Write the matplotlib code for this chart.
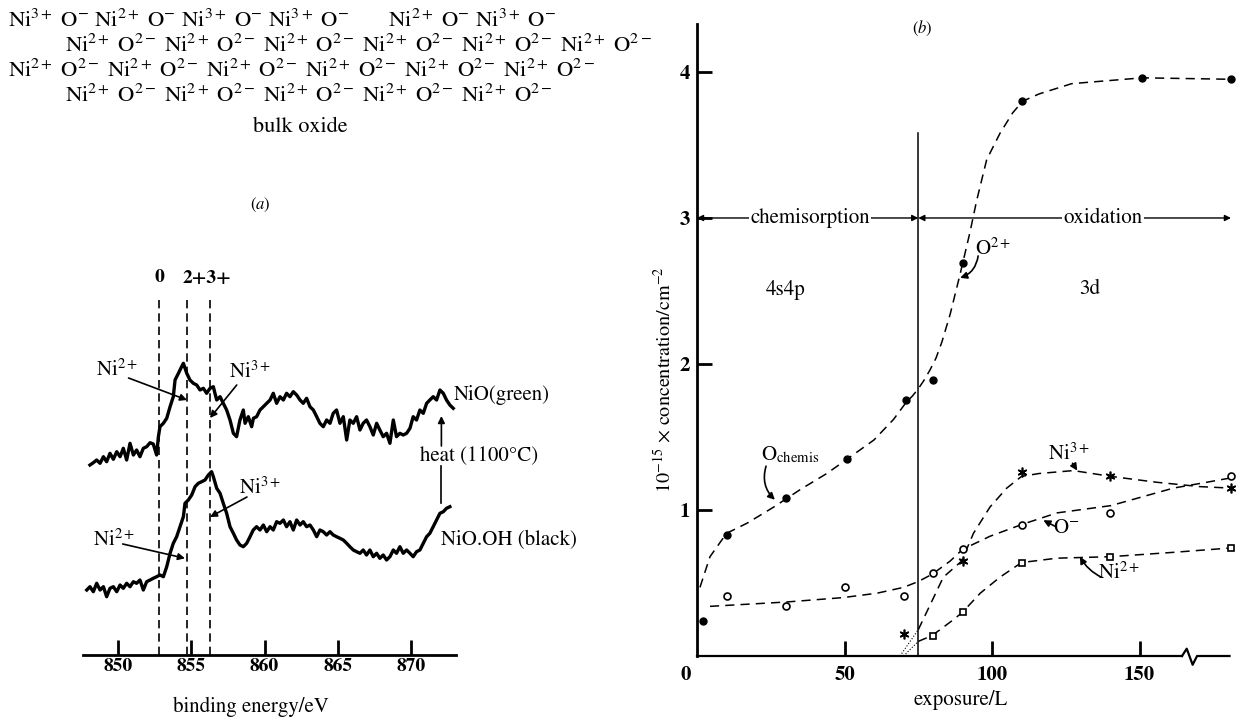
import numpy as np
import matplotlib.pyplot as plt

plt.rcParams['font.family'] = ['STIXGeneral', 'DejaVu Serif']
plt.rcParams['mathtext.fontset'] = 'stix'

# ---------- (a) Ni 2p spectra, binding energy / eV vs intensity (arb.)
green_ev = [848.06, 848.29, 848.52, 848.75, 848.98, 849.20, 849.43, 849.66, 849.89, 850.12,
            850.34, 850.57, 850.80, 851.03, 851.25, 851.48, 851.71, 851.94, 852.17, 852.39,
            852.62, 852.74, 852.85, 853.08, 853.31, 853.54, 853.76, 853.88, 854.11, 854.33,
            854.45, 854.68, 854.90, 855.13, 855.36, 855.59, 855.82, 856.04, 856.27, 856.50,
            856.61, 856.73, 856.96, 857.18, 857.41, 857.64, 857.87, 858.09, 858.32, 858.55,
            858.67, 858.89, 859.12, 859.24, 859.46, 859.69, 859.92, 860.15, 860.38, 860.60,
            860.83, 861.06, 861.29, 861.51, 861.74, 861.97, 862.20, 862.43, 862.65, 862.88,
            863.11, 863.34, 863.57, 863.79, 864.02, 864.25, 864.48, 864.70, 864.93, 865.16,
            865.39, 865.62, 865.84, 866.07, 866.30, 866.53, 866.75, 866.98, 867.21, 867.44,
            867.67, 867.89, 868.12, 868.35, 868.58, 868.81, 869.03, 869.26, 869.49, 869.72,
            869.95, 870.17, 870.40, 870.63, 870.86, 871.09, 871.31, 871.54, 871.77, 872.00,
            872.23, 872.45, 872.68, 872.91]
green_int = [19.0, 19.23, 19.5, 19.17, 19.83, 19.33, 20.17, 19.57, 20.33, 19.83,
             20.67, 19.5, 21.17, 20.0, 20.5, 19.83, 20.67, 20.83, 21.23, 21.1,
             20.0, 21.83, 22.83, 23.17, 23.67, 24.83, 25.83, 27.5, 28.17, 28.83,
             29.17, 28.17, 27.5, 27.17, 27.0, 26.5, 26.67, 26.17, 26.67, 26.83,
             26.17, 25.5, 25.83, 25.17, 24.5, 23.5, 22.17, 21.83, 23.5, 24.5,
             23.17, 23.83, 22.83, 23.67, 23.83, 24.5, 24.83, 25.17, 25.5, 26.17,
             25.17, 25.83, 25.5, 26.17, 25.83, 26.33, 26.0, 25.5, 25.17, 25.67,
             24.83, 24.5, 23.83, 23.17, 22.83, 23.5, 23.17, 24.17, 24.5, 23.17,
             23.83, 21.5, 23.5, 23.17, 23.83, 22.5, 23.17, 23.5, 22.83, 22.0,
             23.17, 22.5, 21.83, 22.17, 21.17, 23.5, 21.83, 22.17, 22.0, 22.17,
             22.67, 23.83, 23.5, 24.5, 24.17, 25.17, 25.5, 25.83, 25.5, 26.5,
             26.17, 25.5, 25.0, 24.67]

black_ev = [847.84, 848.06, 848.29, 848.52, 848.75, 848.98, 849.20, 849.43, 849.66, 849.89,
            850.12, 850.34, 850.57, 850.80, 851.03, 851.25, 851.48, 851.71, 851.94, 852.17,
            852.39, 852.62, 852.85, 853.08, 853.31, 853.54, 853.76, 853.99, 854.22, 854.45,
            854.56, 854.79, 855.02, 855.25, 855.47, 855.70, 855.93, 856.16, 856.38, 856.50,
            856.73, 856.96, 857.18, 857.41, 857.64, 857.87, 858.09, 858.32, 858.55, 858.78,
            859.01, 859.23, 859.46, 859.69, 859.92, 860.15, 860.38, 860.60, 860.83, 861.06,
            861.29, 861.51, 861.74, 861.97, 862.20, 862.43, 862.65, 862.88, 863.11, 863.34,
            863.57, 863.79, 864.02, 864.25, 864.48, 864.70, 864.93, 865.16, 865.39, 865.62,
            865.84, 866.07, 866.30, 866.53, 866.75, 866.98, 867.21, 867.44, 867.67, 867.89,
            868.12, 868.35, 868.58, 868.81, 869.03, 869.26, 869.49, 869.72, 869.95, 870.17,
            870.40, 870.63, 870.86, 871.09, 871.31, 871.54, 871.77, 872.00, 872.23, 872.45,
            872.68]
black_int = [6.5, 6.83, 6.33, 7.17, 6.5, 6.83, 5.83, 6.67, 6.83, 6.33,
             7.0, 6.67, 7.17, 6.83, 7.33, 7.17, 7.5, 6.5, 7.33, 7.5,
             7.67, 7.83, 8.0, 7.83, 8.83, 10.17, 11.17, 11.83, 12.83, 13.83,
             15.17, 15.5, 16.0, 16.83, 17.17, 17.33, 17.5, 18.0, 18.33, 17.83,
             16.67, 16.17, 15.17, 14.17, 12.83, 12.17, 11.5, 11.0, 10.83, 11.17,
             11.83, 12.5, 12.83, 12.5, 13.0, 12.33, 12.83, 12.5, 13.33, 13.17,
             13.5, 12.83, 13.33, 12.5, 13.5, 13.0, 13.33, 12.83, 13.0, 12.5,
             11.83, 12.5, 12.33, 12.0, 12.33, 12.0, 11.83, 11.67, 11.5, 11.17,
             10.83, 10.5, 10.33, 10.17, 10.5, 10.0, 10.5, 9.83, 10.17, 9.67,
             10.0, 9.5, 9.83, 10.5, 10.17, 10.83, 10.17, 10.5, 10.17, 9.83,
             10.33, 10.5, 11.17, 11.83, 12.17, 12.83, 13.5, 14.17, 14.33, 14.67,
             14.83]

state_ev = [852.8, 854.7, 856.3]          # Ni(0), Ni2+, Ni3+ reference positions
ev_ticks = [850, 855, 860, 865, 870]

# ---------- (b) surface concentration vs exposure
o2_x = [2, 10, 30, 51, 71, 80, 90, 110, 151, 181]
o2_y = [0.24, 0.83, 1.08, 1.35, 1.75, 1.89, 2.69, 3.80, 3.96, 3.95]
om_x = [10, 30, 50, 70, 80, 90, 110, 140, 181]
om_y = [0.41, 0.34, 0.47, 0.41, 0.57, 0.73, 0.90, 0.98, 1.23]
ni3_x = [70, 90, 110, 140, 181]
ni3_y = [0.15, 0.65, 1.26, 1.23, 1.15]
ni2_x = [80, 90, 110, 140, 181]
ni2_y = [0.14, 0.30, 0.64, 0.68, 0.74]

# hand-drawn guide curves
o2_fit_x = [1, 4.4, 10, 17, 26, 35, 44, 51, 60, 66.6, 71, 73, 75, 77, 79, 81, 83, 85.8, 89,
            92.5, 94.8, 98.2, 102.7, 107, 110.4, 116, 127, 139, 151, 181]
o2_fit_y = [0.47, 0.68, 0.84, 0.91, 1.02, 1.14, 1.25, 1.35, 1.48, 1.62, 1.74, 1.78, 1.83,
            1.89, 1.96, 2.04, 2.15, 2.34, 2.60, 2.90, 3.12, 3.40, 3.58, 3.72, 3.80, 3.85,
            3.92, 3.94, 3.96, 3.95]
om_fit_x = [4.4, 30.4, 49.5, 61, 70, 75, 79.7, 85.8, 90, 99.3, 110, 122, 140.3, 161.5, 172.8, 181]
om_fit_y = [0.34, 0.37, 0.40, 0.43, 0.47, 0.51, 0.56, 0.65, 0.73, 0.82, 0.90, 0.98, 1.03,
            1.15, 1.19, 1.22]
ni3_fit_x = [75, 83.5, 89.7, 93.7, 99.3, 105, 110, 116, 127.6, 140.3, 155.8, 170.5, 181]
ni3_fit_y = [0.18, 0.54, 0.65, 0.84, 1.02, 1.15, 1.23, 1.25, 1.27, 1.23, 1.19, 1.16, 1.15]
ni2_fit_x = [75, 79.7, 87, 90, 96, 102.7, 110, 122, 140, 161.5, 181]
ni2_fit_y = [0.10, 0.14, 0.25, 0.30, 0.43, 0.54, 0.64, 0.67, 0.68, 0.71, 0.74]
ni3_extrap_x = [68.8, 75]
ni3_extrap_y = [0.0, 0.18]
ni2_extrap_x = [70, 75]
ni2_extrap_y = [0.0, 0.10]

boundary = 75          # chemisorption / oxidation boundary, L
exp_ticks = [50, 100, 150]
conc_ticks = [1, 2, 3, 4]
break_x = [164.4, 166.0, 168.0, 169.5, 180.5]
break_y = [0.0, 0.05, -0.06, 0.0, 0.0]

# ---------- surface structure rows
rows = [
    ['Ni$^{3+}$', 'O$^{-}$', 'Ni$^{2+}$', 'O$^{-}$', 'Ni$^{3+}$', 'O$^{-}$', 'Ni$^{3+}$',
     'O$^{-}$      ', 'Ni$^{2+}$', 'O$^{-}$', 'Ni$^{3+}$', 'O$^{-}$'],
    ['Ni$^{2+}$', 'O$^{2-}$'] * 6,
    ['Ni$^{2+}$', 'O$^{2-}$'] * 6,
    ['Ni$^{2+}$', 'O$^{2-}$'] * 5,
]
row_x = [8, 65, 8, 65]
row_y = [21, 46, 71, 96]

W, H = 1239, 719
fig = plt.figure(figsize=(W / 100, H / 100), dpi=100)

for r, x0, y0 in zip(rows, row_x, row_y):
    fig.text(x0 / W, 1 - y0 / H, ' '.join(r), fontsize=16.2, ha='left', va='center')
fig.text(300 / W, 1 - 127 / H, 'bulk oxide', fontsize=16, ha='center', va='center')

# ---------------- panel (a)
ax = fig.add_axes([60 / W, 19 / H, 540 / W, 550 / H])
ax.set_xlim(846.01, 882.95)
ax.set_ylim(-4.5, 50.5)
for s in ['left', 'right', 'top']:
    ax.spines[s].set_visible(False)
ax.spines['bottom'].set_position(('data', 0))
ax.spines['bottom'].set_bounds(847.6, 873.1)
ax.spines['bottom'].set_linewidth(2)
ax.set_yticks([])
ax.set_xticks(ev_ticks)
ax.tick_params(axis='x', direction='in', length=11, width=2, labelsize=14, pad=2)
for lab in ax.get_xticklabels():
    lab.set_fontweight('bold')

ax.vlines(state_ev, 0, 35.9, colors='k', linestyles=(0, (5, 3)), lw=1.2)
ax.plot(green_ev, green_int, color='k', lw=2.4)
ax.plot(black_ev, black_int, color='k', lw=2.4)

ax.text(852.8, 37.7, '0', fontsize=14, fontweight='bold', ha='center', va='center')
ax.text(856.05, 37.7, '2+3+', fontsize=14, fontweight='bold', ha='center', va='center')
ax.text(859.7, 45, '$(a)$', fontsize=12, ha='center', va='center')

arrow = dict(arrowstyle='-|>', lw=1.2, color='k', mutation_scale=10, shrinkA=0, shrinkB=0)
ax.text(849.9, 28.5, 'Ni$^{2+}$', fontsize=15, ha='center', va='center')
ax.annotate('', xy=(854.7, 25.5), xytext=(850.7, 27.7), arrowprops=arrow)
ax.text(859.0, 28.3, 'Ni$^{3+}$', fontsize=15, ha='center', va='center')
ax.annotate('', xy=(856.27, 23.7), xytext=(858.1, 27.0), arrowprops=arrow)
ax.text(859.7, 16.7, 'Ni$^{3+}$', fontsize=15, ha='center', va='center')
ax.annotate('', xy=(856.27, 13.8), xytext=(858.8, 15.8), arrowprops=arrow)
ax.text(849.7, 11.5, 'Ni$^{2+}$', fontsize=15, ha='center', va='center')
ax.annotate('', xy=(854.56, 9.67), xytext=(850.3, 11.1), arrowprops=arrow)

ax.text(872.95, 26.0, 'NiO(green)', fontsize=15, ha='left', va='center')
ax.text(872.1, 11.5, 'NiO.OH (black)', fontsize=15, ha='left', va='center')
ax.text(874.7, 19.85, 'heat (1100\u00b0C)', fontsize=15, ha='center', va='center')
ax.annotate('', xy=(872.1, 23.9), xytext=(872.1, 20.9), arrowprops=arrow)
ax.plot([872.1, 872.1], [15.2, 18.9], color='k', lw=1.2)
ax.text(859.1, -5.2, 'binding energy/eV', fontsize=15, ha='center', va='center')

# ---------------- panel (b)
bx = fig.add_axes([697 / W, (H - 656) / H, 539 / W, 636 / H])
bx.set_xlim(0, 182.7)
bx.set_ylim(0, 4.356)
for s in ['right', 'top']:
    bx.spines[s].set_visible(False)
bx.spines['left'].set_linewidth(2)
bx.spines['left'].set_bounds(0, 4.33)
bx.spines['bottom'].set_linewidth(1.6)
bx.spines['bottom'].set_bounds(0, break_x[0])
bx.plot(break_x, break_y, color='k', lw=1.6, clip_on=False)

bx.set_xticks(exp_ticks)
bx.set_yticks(conc_ticks)
bx.tick_params(direction='in', length=11, width=2, labelsize=15)
bx.tick_params(axis='x', pad=7)
bx.tick_params(axis='y', pad=5)
for lab in bx.get_xticklabels() + bx.get_yticklabels():
    lab.set_fontweight('bold')
bx.text(-4, -0.13, '0', fontsize=15, fontweight='bold', ha='center', va='center')

bx.axvline(boundary, ymax=3.58 / 4.356, color='k', lw=1.1)

dash = (0, (6, 4))
bx.plot(o2_fit_x, o2_fit_y, color='k', lw=1.1, ls=dash)
bx.plot(om_fit_x, om_fit_y, color='k', lw=1.1, ls=dash)
bx.plot(ni3_fit_x, ni3_fit_y, color='k', lw=1.1, ls=dash)
bx.plot(ni2_fit_x, ni2_fit_y, color='k', lw=1.1, ls=dash)
bx.plot(ni3_extrap_x, ni3_extrap_y, color='k', lw=0.8, ls=':')
bx.plot(ni2_extrap_x, ni2_extrap_y, color='k', lw=0.8, ls=':')

bx.plot(o2_x, o2_y, 'o', color='k', ms=5, clip_on=False)
bx.plot(om_x, om_y, 'o', mfc='white', mec='k', mew=1.2, ms=5, clip_on=False)
bx.plot(ni3_x, ni3_y, marker=(6, 2, 0), ls='none', color='k', mew=1.2, ms=7, clip_on=False)
bx.plot(ni2_x, ni2_y, 's', mfc='white', mec='k', mew=1.2, ms=5, clip_on=False)

harrow = dict(arrowstyle='<|-|>', lw=1.0, color='k', mutation_scale=9, shrinkA=0, shrinkB=0)
bx.annotate('', xy=(0, 3), xytext=(boundary, 3), arrowprops=harrow)
bx.annotate('', xy=(boundary, 3), xytext=(181, 3), arrowprops=harrow, annotation_clip=False)
box = dict(facecolor='white', edgecolor='none', pad=1)
bx.text(38.3, 3.0, 'chemisorption', fontsize=15, ha='center', va='center', bbox=box)
bx.text(137.6, 3.0, 'oxidation', fontsize=15, ha='center', va='center', bbox=box)
bx.text(30, 2.51, '4s4p', fontsize=15, ha='center', va='center')
bx.text(133, 2.51, '3d', fontsize=15, ha='center', va='center')
bx.text(76.5, 4.30, '$(b)$', fontsize=12, ha='center', va='center', clip_on=False)

bx.text(100.5, 2.79, 'O$^{2+}$', fontsize=15, ha='center', va='center')
bx.annotate('', xy=(89.2, 2.59), xytext=(95.3, 2.74),
            arrowprops=dict(arrow, connectionstyle='arc3,rad=-0.3'))
bx.text(31.5, 1.38, r'O$_{\mathrm{chemis}}$', fontsize=15, ha='center', va='center')
bx.annotate('', xy=(26.4, 1.07), xytext=(23.4, 1.30),
            arrowprops=dict(arrow, connectionstyle='arc3,rad=0.3'))
bx.text(126, 1.38, 'Ni$^{3+}$', fontsize=15, ha='center', va='center')
bx.annotate('', xy=(128.9, 1.27), xytext=(127.3, 1.32), arrowprops=arrow)
bx.text(125, 0.875, 'O$^{-}$', fontsize=15, ha='center', va='center')
bx.annotate('', xy=(117.4, 0.93), xytext=(121.2, 0.89), arrowprops=arrow)
bx.text(143, 0.57, 'Ni$^{2+}$', fontsize=15, ha='center', va='center')
bx.annotate('', xy=(129.8, 0.68), xytext=(137.0, 0.54),
            arrowprops=dict(arrow, connectionstyle='arc3,rad=-0.15'))

bx.text(-0.062, 0.434, r'10$^{-15}$ $\times$ concentration/cm$^{-2}$', fontsize=14.5,
        rotation=90, ha='center', va='center', transform=bx.transAxes)
bx.text(0.49, -0.069, 'exposure/L', fontsize=15, ha='center', va='center',
        transform=bx.transAxes)

fig.savefig('out.png', dpi=100)
